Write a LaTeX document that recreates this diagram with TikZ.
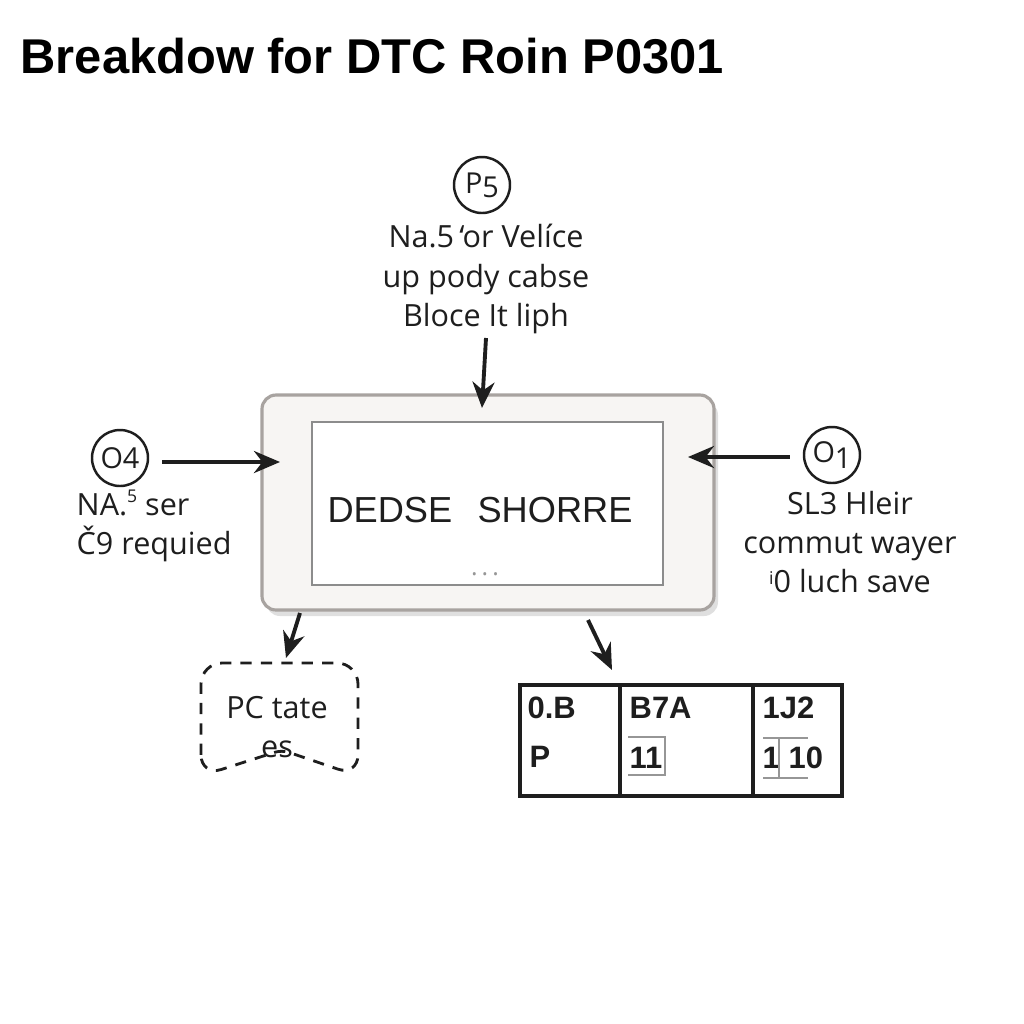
\documentclass[tikz,border=0pt]{standalone}
\usepackage{fontspec}
\setmainfont{Open Sans}
\newfontfamily\headfont{Liberation Sans}
\usepackage{xcolor}
\usepackage{tikz}
\usetikzlibrary{arrows.meta,positioning,calc,shadows}
\definecolor{Xink}{RGB}{30,30,30}
\definecolor{Xframe}{RGB}{168,163,160}
\definecolor{Xpanel}{RGB}{247,245,243}
\definecolor{Xscreen}{RGB}{140,140,140}
\definecolor{Xfaint}{RGB}{150,150,150}
\tikzset{
  flow/.style={-{Stealth[length=2.6mm,width=2.2mm]}, line width=1.1pt, draw=Xink},
  tagcircle/.style={circle, draw=Xink, line width=0.7pt, minimum size=5.6mm, inner sep=0pt, font=\fontsize{8.2}{9}\selectfont, text=Xink},
  labeltext/.style={align=center, font=\fontsize{8.7}{11.2}\selectfont, text=Xink, inner sep=0pt},
  cellbox/.style={draw=Xink, line width=1pt, minimum height=1.11cm, inner sep=0pt, outer sep=0pt},
  celltext/.style={anchor=base west, font=\headfont\bfseries\fontsize{8.8}{9}\selectfont, text=Xink, inner sep=0pt}
}
\begin{document}
\begin{tikzpicture}
  \useasboundingbox[fill=white] (0,0) rectangle (10.24,-10.24);

  % title
  \node[anchor=base west, inner sep=0pt, font=\headfont\bfseries\fontsize{13.9}{15}\selectfont] (title) at (0.20,-0.73) {Breakdow for DTC Roin P0301};

  % central panel
  \node[draw=Xframe, fill=Xpanel, line width=0.9pt, rounded corners=4pt, minimum width=4.52cm, minimum height=2.15cm,
        drop shadow={shadow xshift=0.4mm, shadow yshift=-0.6mm, opacity=0.25}] (panel) at (4.88,-5.025) {};
  \node[draw=Xscreen, fill=white, line width=0.8pt, minimum width=3.51cm, minimum height=1.63cm] (screen) at (4.875,-5.035) {};
  \node[font=\headfont\fontsize{10.3}{12}\selectfont, text=Xink] (readout) at (4.80,-5.10) {DEDSE\hspace{0.7em}SHORRE};
  \node[font=\fontsize{7}{8}\selectfont, text=Xfaint] (dots) at (4.85,-5.74) {.\,.\,.};

  % P5 input (top)
  \node[tagcircle] (p5) at (4.82,-1.85) {P\raisebox{-0.25ex}{5}};
  \node[labeltext] (p5txt) at (4.86,-2.79) {Na.5\,‘or Velíce\\up pody cabse\\Bloce It liph};
  \coordinate (p5end) at (4.82,-4.08);

  % O4 input (left)
  \node[tagcircle] (o4) at (1.20,-4.58) {O4};
  \node[labeltext, align=left, anchor=west] (o4txt) at (0.76,-5.26) {NA.\raisebox{0.8ex}{\tiny 5} ser\\Č9 requied};
  \coordinate (o4end) at (2.80,-4.62);

  % O1 input (right)
  \node[tagcircle] (o1) at (8.32,-4.55) {O\raisebox{-0.35ex}{1}};
  \node[labeltext] (o1txt) at (8.50,-5.42) {SL3 Hleir\\commut wayer\\\raisebox{0.5ex}{\tiny i}0 luch save};
  \coordinate (o1end) at (6.88,-4.57);

  \draw[flow] (p5txt.south |- 0,-3.38) -- (p5end);
  \draw[flow, shorten <=1.3mm] (o4.east |- o4end) -- (o4end);
  \draw[flow, shorten <=1.3mm] (o1.west |- o1end) -- (o1end);

  % dashed outcome (bottom left)
  \draw[Xink, line width=0.8pt, dash pattern=on 3.2pt off 2.6pt, rounded corners=6pt]
    (2.01,-7.76) -- (2.01,-6.63) -- (3.58,-6.63) -- (3.58,-7.76) [rounded corners=2pt] -- (2.82,-7.50) [rounded corners=6pt] -- cycle;
  \node[labeltext] (pctxt) at (2.77,-7.27) {PC tate\\es};
  \coordinate (pcstart) at (3.00,-6.13);
  \coordinate (pcend) at (2.86,-6.58);
  \draw[flow] (pcstart) -- (pcend);

  % code table (bottom right)
  \node[cellbox, minimum width=1.00cm, anchor=north west] (colA) at (5.20,-6.85) {};
  \node[cellbox, minimum width=1.33cm, anchor=north west] (colB) at (colA.north east) {};
  \node[cellbox, minimum width=0.89cm, anchor=north west] (colC) at (colB.north east) {};
  \coordinate (tbstart) at (5.88,-6.20);
  \coordinate (tbend) at (6.12,-6.70);
  \draw[flow] (tbstart) -- (tbend);

  \node[celltext] (a1) at (5.27,-7.18) {0.B};
  \node[celltext] (a2) at (5.29,-7.67) {P};
  \node[celltext] (b1) at (6.29,-7.18) {B7A};
  \node[celltext] (b2) at (6.29,-7.68) {11};
  \node[celltext] (c1) at (7.62,-7.18) {1J2};
  \node[celltext] (c2) at (7.62,-7.68) {1\hspace{0.28em}10};
  \draw[Xfaint, line width=0.5pt] (6.28,-7.37) -- (6.65,-7.37) -- (6.65,-7.75) -- (6.28,-7.75);
  \draw[Xfaint, line width=0.5pt] (7.63,-7.38) -- (8.08,-7.38) (7.79,-7.38) -- (7.79,-7.78) (7.63,-7.78) -- (8.08,-7.78);
\end{tikzpicture}
\end{document}
